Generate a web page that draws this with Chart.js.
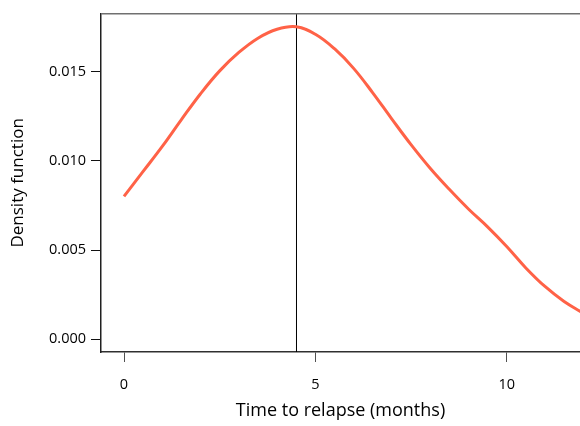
<!DOCTYPE html>
<html>
<head>
<meta charset="utf-8">
<script src="https://cdn.jsdelivr.net/npm/chart.js@4/dist/chart.umd.min.js"></script>
<style>
  html, body { margin: 0; padding: 0; background: #fff; }
  canvas { display: block; }
</style>
</head>
<body>
<canvas id="myChart" width="580" height="426"></canvas>
<script>
// density estimate
var months = [0, 0.5, 1, 1.5, 2, 2.5, 3, 3.5, 4, 4.5, 5, 5.5, 6, 6.5, 7, 7.5, 8, 8.5, 9, 9.5, 10, 10.5, 11, 11.5, 12];
var density = [0.0080, 0.0094, 0.0108, 0.0123, 0.01375, 0.01503, 0.01606, 0.01686, 0.01736, 0.0175, 0.01708, 0.01627, 0.01517, 0.0138, 0.01233, 0.0109, 0.00958, 0.0084, 0.0073, 0.0063, 0.0052, 0.0040, 0.00296, 0.00212, 0.00147];
var markerX = [4.507, 4.507];
var markerY = [-0.001, 0.019];
var xTicks = [0, 5, 10];
var yTicks = [0, 0.005, 0.010, 0.015];

var curve = [];
for (var i in months) {
    curve.push({x: months[i], y: density[i]});
}
var marker = [];
for (var j in markerX) {
    marker.push({x: markerX[j], y: markerY[j]});
}

var fontFamily = "'Open Sans', 'Noto Sans', sans-serif";

var topBorder = {
    id: 'topBorder',
    afterDraw: function (chart) {
        var a = chart.chartArea;
        var c = chart.ctx;
        c.save();
        c.strokeStyle = '#707070';
        c.lineWidth = 1.5;
        c.beginPath();
        c.moveTo(a.left, a.top);
        c.lineTo(a.right, a.top);
        c.stroke();
        c.restore();
    }
};

var ctx = document.getElementById("myChart").getContext('2d');
var myChart = new Chart(ctx, {
    type: 'scatter',
    data: {
        datasets: [
            {
                data: curve,
                showLine: true,
                borderColor: '#ff6247',
                borderWidth: 3,
                pointRadius: 0,
                tension: 0.4,
                fill: false
            },
            {
                data: marker,
                showLine: true,
                borderColor: '#000000',
                borderWidth: 1,
                pointRadius: 0,
                fill: false
            }
        ]
    },
    options: {
        responsive: false,
        animation: false,
        devicePixelRatio: 1,
        layout: { padding: { top: 12, right: 0, left: 0, bottom: 0 } },
        plugins: {
            legend: { display: false },
            tooltip: { enabled: false }
        },
        scales: {
            x: {
                type: 'linear',
                min: -0.601,
                max: 11.915,
                afterFit: function (scale) { scale.height = 74; },
                afterBuildTicks: function (scale) {
                    scale.ticks = xTicks.map(function (v) { return {value: v}; });
                },
                border: { display: true, color: '#303030', width: 1.5 },
                grid: { drawOnChartArea: false, drawTicks: true, tickLength: 10, color: '#505050' },
                ticks: {
                    color: '#000',
                    padding: 14,
                    maxRotation: 0,
                    font: { family: fontFamily, size: 14.5 }
                },
                title: {
                    display: true,
                    text: 'Time to relapse (months)',
                    color: '#000',
                    padding: { top: 0, bottom: 4 },
                    font: { family: fontFamily, size: 18 }
                }
            },
            y: {
                type: 'linear',
                min: -0.000707,
                max: 0.01823,
                afterFit: function (scale) { scale.width = 101; },
                afterBuildTicks: function (scale) {
                    scale.ticks = yTicks.map(function (v) { return {value: v}; });
                },
                border: { display: true, color: '#202020', width: 1.5 },
                grid: { drawOnChartArea: false, drawTicks: true, tickLength: 10, color: '#111' },
                ticks: {
                    color: '#000',
                    padding: 5,
                    font: { family: fontFamily, size: 14.5 },
                    callback: function (v) { return v.toFixed(3); }
                },
                title: {
                    display: true,
                    text: 'Density function',
                    color: '#000',
                    padding: { top: 8, bottom: 0 },
                    font: { family: fontFamily, size: 17 }
                }
            }
        }
    },
    plugins: [topBorder]
});
</script>
</body>
</html>
